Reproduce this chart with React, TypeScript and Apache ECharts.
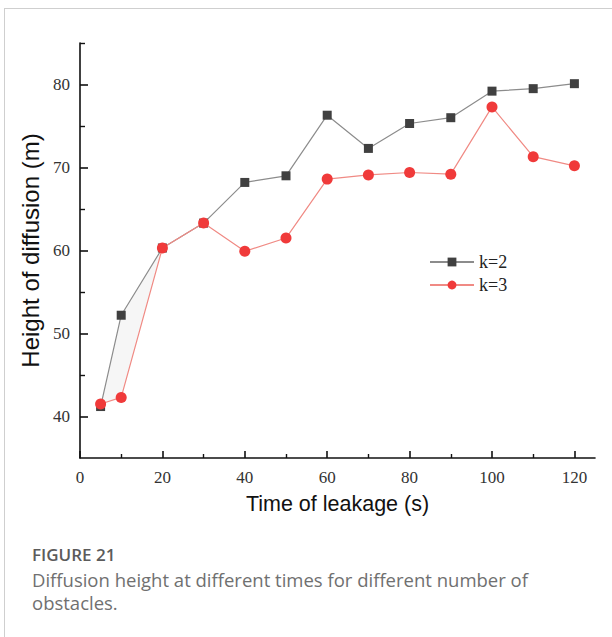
import React, { useEffect, useRef } from "react";
import * as echarts from "echarts";

// Leakage time (s) at which the diffusion height was sampled
const times = [5, 10, 20, 30, 40, 50, 60, 70, 80, 90, 100, 110, 120];
// Diffusion height (m) for k = 2 obstacles
const heightK2 = [41.2, 52.2, 60.3, 63.3, 68.2, 69.0, 76.3, 72.3, 75.3, 76.0, 79.2, 79.5, 80.1];
// Diffusion height (m) for k = 3 obstacles
const heightK3 = [41.5, 42.3, 60.3, 63.3, 59.9, 61.5, 68.6, 69.1, 69.4, 69.2, 77.3, 71.3, 70.2];

const xMajorTicks = [0, 20, 40, 60, 80, 100, 120];
const xMinorTicks = [10, 30, 50, 70, 90, 110];
const yMajorTicks = [40, 50, 60, 70, 80];
const yMinorTicks = [45, 55, 65, 75, 85];

const seriesNames = ["k=2", "k=3"];
const captionTitle = "FIGURE 21";
const captionLines = [
  "Diffusion height at different times for different number of",
  "obstacles.",
];

// The early interval where the gap between the two curves is shaded
const shadeUntil = 20;

const W = 612;
const H = 637;
const serif = "'Liberation Serif', 'DejaVu Serif', serif";
const sans = "'Liberation Sans', Arial, sans-serif";
const captionFont = "'Open Sans', 'Noto Sans', sans-serif";

export default function App() {
  const ref = useRef<HTMLDivElement>(null);

  useEffect(() => {
    if (!ref.current) return;
    const chart = echarts.init(ref.current, undefined, { renderer: "svg", width: W, height: H });

    const axisLine = { show: true, onZero: false, lineStyle: { color: "#111", width: 1.6 } };
    const pairs = (ys: number[]) => times.map((t, i) => [t, ys[i]]);

    chart.setOption({
      animation: false,
      backgroundColor: "#fff",
      grid: { left: 80, top: 43, right: 17, bottom: 179, containLabel: false },
      legend: {
        data: seriesNames,
        orient: "vertical",
        left: 424,
        top: 248,
        itemWidth: 44,
        itemHeight: 11,
        itemGap: 5,
        textStyle: { fontFamily: serif, fontSize: 18, color: "#222" },
      },
      xAxis: [
        {
          type: "value",
          min: 0,
          max: 125,
          position: "bottom",
          axisLine,
          splitLine: { show: false },
          axisTick: { show: true, inside: true, length: 7, customValues: xMajorTicks, lineStyle: { color: "#111", width: 1.6 } },
          axisLabel: { customValues: xMajorTicks, margin: 11, fontFamily: serif, fontSize: 17, color: "#333" },
          name: "Time of leakage (s)",
          nameLocation: "middle",
          nameGap: 35,
          nameTextStyle: { fontFamily: sans, fontSize: 21.5, color: "#111" },
        },
        {
          type: "value",
          min: 0,
          max: 125,
          position: "bottom",
          axisLine: { show: false, onZero: false },
          splitLine: { show: false },
          axisTick: { show: true, inside: true, length: 4, customValues: xMinorTicks, lineStyle: { color: "#111", width: 1.4 } },
          axisLabel: { show: false },
        },
      ],
      yAxis: [
        {
          type: "value",
          min: 35,
          max: 85,
          position: "left",
          axisLine,
          splitLine: { show: false },
          axisTick: { show: true, inside: true, length: 8, customValues: yMajorTicks, lineStyle: { color: "#111", width: 1.6 } },
          axisLabel: { customValues: yMajorTicks, margin: 10, fontFamily: serif, fontSize: 17, color: "#333" },
          name: "Height of diffusion (m)",
          nameLocation: "middle",
          nameGap: 37,
          nameRotate: 90,
          nameTextStyle: { fontFamily: sans, fontSize: 24, color: "#111" },
        },
        {
          type: "value",
          min: 35,
          max: 85,
          position: "left",
          axisLine: { show: false, onZero: false },
          splitLine: { show: false },
          axisTick: { show: true, inside: true, length: 5, customValues: yMinorTicks, lineStyle: { color: "#111", width: 1.4 } },
          axisLabel: { show: false },
        },
      ],
      series: [
        {
          type: "custom",
          name: "shade",
          xAxisIndex: 0,
          yAxisIndex: 0,
          silent: true,
          z: 1,
          data: [[times[0], heightK2[0]]],
          renderItem: (_params: any, api: any) => {
            const idx = times.map((_, i) => i).filter((i) => times[i] <= shadeUntil);
            const upper = idx.map((i) => api.coord([times[i], heightK2[i]]));
            const lower = idx
              .slice()
              .reverse()
              .map((i) => api.coord([times[i], heightK3[i]]));
            return {
              type: "polygon",
              shape: { points: upper.concat(lower) },
              style: { fill: "#f6f6f6", stroke: "none" },
            };
          },
        },
        {
          type: "line",
          name: seriesNames[0],
          data: pairs(heightK2),
          z: 3,
          symbol: "rect",
          symbolSize: 9,
          lineStyle: { color: "#8c8c8c", width: 1.2 },
          itemStyle: { color: "#404040" },
        },
        {
          type: "line",
          name: seriesNames[1],
          data: pairs(heightK3),
          z: 4,
          symbol: "circle",
          symbolSize: 11,
          lineStyle: { color: "#f08a84", width: 1.2 },
          itemStyle: { color: "#f03a3a" },
        },
      ],
      graphic: [
        { type: "line", shape: { x1: 4, y1: 8.5, x2: W, y2: 8.5 }, style: { stroke: "#cfcfcf", lineWidth: 1 } },
        { type: "line", shape: { x1: 4.5, y1: 8, x2: 4.5, y2: H }, style: { stroke: "#cfcfcf", lineWidth: 1 } },
        {
          type: "text",
          left: 32,
          top: 546,
          style: { text: captionTitle, fontFamily: captionFont, fontSize: 17, fontWeight: 600, fill: "#5b5b5b" },
        },
        {
          type: "text",
          left: 32,
          top: 568,
          style: {
            text: captionLines.join("\n"),
            fontFamily: captionFont,
            fontSize: 18.5,
            lineHeight: 23,
            fill: "#707070",
          },
        },
      ],
    });

    return () => chart.dispose();
  }, []);

  return <div ref={ref} style={{ position: "fixed", left: 0, top: 0, width: W, height: H }} />;
}
